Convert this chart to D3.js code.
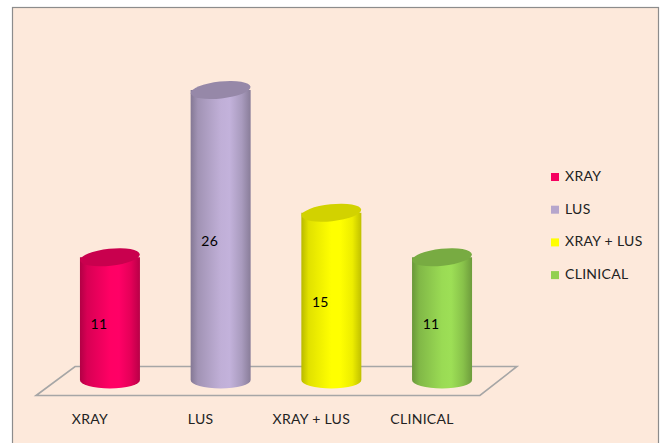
<!DOCTYPE html>
<html><head><meta charset="utf-8">
<script src="https://cdn.jsdelivr.net/npm/d3@7"></script>
<style>html,body{margin:0;padding:0;background:#fff;}svg{display:block;}</style>
</head><body>
<script>
const categories = ["XRAY", "LUS", "XRAY + LUS", "CLINICAL"];
const values = [11, 26, 15, 11];
const colors = ["#f5005f", "#b6a6cc", "#ffff00", "#92d050"];

const W = 662, H = 443;
const svg = d3.select("body").append("svg").attr("width", W).attr("height", H);
const defs = svg.append("defs");

// frame
svg.append("rect").attr("x", 12.5).attr("y", 7.5).attr("width", 646).attr("height", 450)
  .attr("fill", "#fde9db").attr("stroke", "#8c8c8c").attr("stroke-width", 1.2);

const x = d3.scaleBand().domain(categories).range([54.6, 497.4]).padding(0);
const y = d3.scaleLinear().domain([0, 26]).range([380, 90]);

// floor
const floorY0 = 395.5, floorY1 = 366.5;
const fl = x.range()[0], fr = x.range()[1];
svg.append("path")
  .attr("d", `M${fl-18.5},${floorY0} L${fl+20.5},${floorY1} L${fr+19.5},${floorY1} L${fr-17.5},${floorY0} Z`)
  .attr("fill", "none").attr("stroke", "#a6a6a6").attr("stroke-width", 1.6);

const rx = 30, ry = 8.5;
categories.forEach((c, i) => {
  const col = d3.color(colors[i]);
  const g = defs.append("linearGradient").attr("id", "g" + i).attr("x1", "0").attr("x2", "1").attr("y1", "0").attr("y2", "0");
  const stops = [[0, col.darker(0.9)], [0.12, col.darker(0.35)], [0.5, col.brighter(0.15)], [0.65, col.brighter(0.2)], [0.85, col.darker(0.2)], [1, col.darker(0.8)]];
  stops.forEach(s => g.append("stop").attr("offset", s[0]).attr("stop-color", s[1].formatHex()));
});

const font = "Lato, 'Open Sans', sans-serif";
const bars = svg.append("g").selectAll("g").data(categories).join("g");
bars.each(function(c, i) {
  const gsel = d3.select(this);
  const cx = x(c) + x.bandwidth() / 2;
  const top = y(values[i]), bot = y(0);
  gsel.append("path")
    .attr("d", `M${cx-rx},${top} L${cx-rx},${bot} A${rx},${ry} 0 0 0 ${cx+rx},${bot} L${cx+rx},${top} Z`)
    .attr("fill", `url(#g${i})`);
  gsel.append("ellipse").attr("cx", cx).attr("cy", top).attr("rx", rx).attr("ry", ry)
    .attr("transform", `rotate(-6,${cx},${top})`)
    .attr("fill", d3.color(colors[i]).darker(0.55).formatHex());
  gsel.append("text").attr("x", cx - 11).attr("y", (top + bot) / 2 + 7)
    .attr("text-anchor", "middle").attr("dominant-baseline", "middle")
    .attr("font-family", font).attr("font-size", 14).attr("letter-spacing", 0.3).attr("fill", "#000")
    .text(values[i]);
  gsel.append("text").attr("x", cx - 20).attr("y", 420)
    .attr("text-anchor", "middle").attr("dominant-baseline", "middle")
    .attr("font-family", font).attr("font-size", 14).attr("letter-spacing", 0.3).attr("fill", "#222")
    .text(c);
});

// legend
const leg = svg.append("g").selectAll("g").data(categories).join("g")
  .attr("transform", (d, i) => `translate(551,${177 + i * 32.7})`);
leg.append("rect").attr("x", 0).attr("y", -4).attr("width", 8).attr("height", 8)
  .attr("fill", (d, i) => colors[i]);
leg.append("text").attr("x", 14).attr("y", 0.5).attr("dominant-baseline", "middle")
  .attr("font-family", font).attr("font-size", 14).attr("letter-spacing", 0.3).attr("fill", "#222")
  .text(d => d);
</script>
</body></html>
